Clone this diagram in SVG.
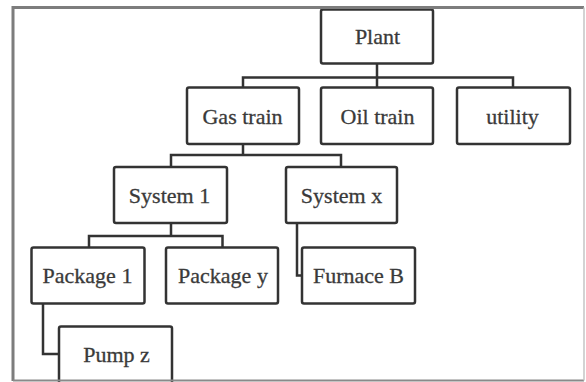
<svg xmlns="http://www.w3.org/2000/svg" width="586" height="382" viewBox="0 0 586 382">
<style>
.box{fill:#fff;stroke:#333;stroke-width:2.5}
.lbl{font-family:"Liberation Serif","Times New Roman",serif;font-size:22px;fill:#3a3a3a;stroke:#3a3a3a;stroke-width:0.3;text-anchor:middle}
.con{fill:none;stroke:#333;stroke-width:2.5}
</style>
<rect x="0" y="0" width="586" height="382" fill="#fff"/>
<g id="connectors">
<path class="con" d="M377 63.5V87.5M243 87.5V77.5H513V87.5"/>
<path class="con" d="M243 144V155M171 167V155H341V167"/>
<path class="con" d="M171 223V236M89 247.5V236H222.5V247.5"/>
<path class="con" d="M297 223V275.5H302"/>
<path class="con" d="M43 304V354H59"/>
</g>
<g id="plant"><rect class="box" x="321" y="9.5" width="112" height="54" rx="2"/><text class="lbl" x="377.5" y="43.5">Plant</text></g>
<g id="gas-train"><rect class="box" x="187" y="87.5" width="112" height="56.5" rx="2"/><text class="lbl" x="242.5" y="123.5">Gas train</text></g>
<g id="oil-train"><rect class="box" x="321" y="87.5" width="112" height="56.5" rx="2"/><text class="lbl" x="377.5" y="123.5">Oil train</text></g>
<g id="utility"><rect class="box" x="457" y="87.5" width="113" height="56.5" rx="2"/><text class="lbl" x="512.5" y="123.5">utility</text></g>
<g id="system-1"><rect class="box" x="114" y="167" width="113" height="56" rx="2"/><text class="lbl" x="169.5" y="203">System 1</text></g>
<g id="system-x"><rect class="box" x="286" y="167" width="111" height="56" rx="2"/><text class="lbl" x="341.5" y="203">System x</text></g>
<g id="package-1"><rect class="box" x="31.5" y="247.5" width="113" height="56" rx="2"/><text class="lbl" x="87.5" y="283">Package 1</text></g>
<g id="package-y"><rect class="box" x="166" y="247.5" width="112" height="56" rx="2"/><text class="lbl" x="223" y="283">Package y</text></g>
<g id="furnace-b"><rect class="box" x="302" y="247.5" width="113" height="56" rx="2"/><text class="lbl" x="358.5" y="283">Furnace B</text></g>
<g id="pump-z"><rect class="box" x="59" y="326.5" width="113" height="70" rx="2"/><text class="lbl" x="116.5" y="361.5">Pump z</text></g>
<g id="frame" fill="none">
<path d="M13 381V7.5H584" stroke="#7d7d7d" stroke-width="3"/>
<path d="M13 380.5H584" stroke="#8a8a8a" stroke-width="2"/>
<path d="M584 7.5V380.5" stroke="#c4c4c4" stroke-width="1.5"/>
</g>
</svg>
